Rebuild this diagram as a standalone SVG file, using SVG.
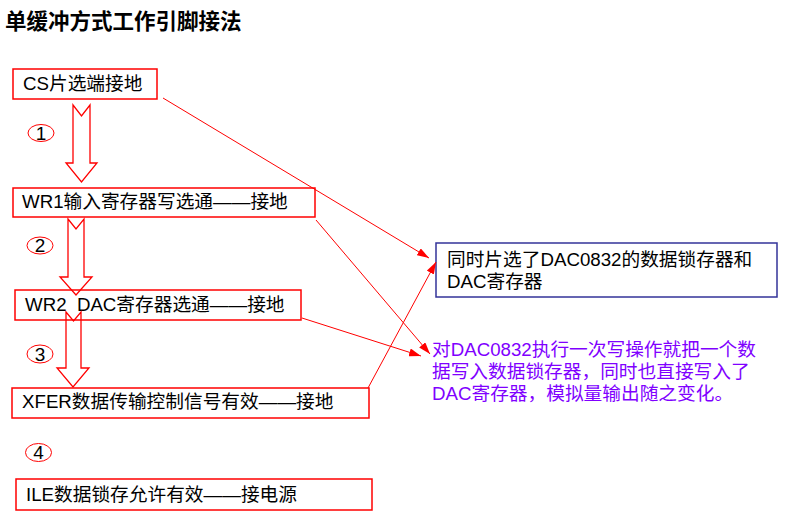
<svg xmlns="http://www.w3.org/2000/svg" width="789" height="531" viewBox="0 0 789 531">
<defs>
<style>
.t{font-family:"Liberation Sans","Noto Sans CJK SC",sans-serif;font-size:18.7px;fill:#000;white-space:pre}
.title{font-family:"Noto Sans CJK SC","Liberation Sans",sans-serif;font-size:21.5px;font-weight:bold;fill:#000}
.rb{fill:#fff;stroke:#ff0000;stroke-width:1.5}
.bb{fill:#fff;stroke:#333399;stroke-width:1.5}
.ba{fill:none;stroke:#ff0000;stroke-width:1.3}
.num{fill:none;stroke:#ff0000;stroke-width:1}
.n{font-family:"Liberation Sans",sans-serif;font-size:19px;fill:#000;text-anchor:middle}
.c{fill:none;stroke:#ff0000;stroke-width:1}
.p{font-family:"Liberation Sans","Noto Sans CJK SC",sans-serif;font-size:18.7px;fill:#8000ff}
</style>
<marker id="ah" viewBox="0 0 12 8" refX="12" refY="4" markerWidth="12" markerHeight="8" markerUnits="userSpaceOnUse" orient="auto">
<path d="M0,0 L12,4 L0,8 Z" fill="#ff0000"/>
</marker>
</defs>
<rect width="789" height="531" fill="#fff"/>
<text class="title" x="5" y="29">单缓冲方式工作引脚接法</text>

<g id="cs"><rect class="rb" x="13" y="69" width="144" height="30"/><text class="t" x="23" y="90">CS片选端接地</text></g>

<g id="wr1"><rect class="rb" x="13" y="188" width="302" height="29"/><text class="t" x="22" y="208">WR1输入寄存器写选通——接地</text></g>

<g id="wr2"><rect class="rb" x="15" y="290" width="286" height="30"/><text class="t" x="25" y="311" xml:space="preserve">WR2  DAC寄存器选通——接地</text></g>

<g id="xfer"><rect class="rb" x="12" y="388" width="357" height="30"/><text class="t" x="22" y="408">XFER数据传输控制信号有效——接地</text></g>

<g id="ile"><rect class="rb" x="16" y="479" width="356" height="31"/><text class="t" x="26" y="501">ILE数据锁存允许有效——接电源</text></g>

<g id="step1">
<path class="ba" d="M73,105 L81.5,116 L90,105 L90,163 L97,163 L81.5,182 L66,163 L73,163 Z"/>
<ellipse class="num" cx="41" cy="133" rx="13" ry="8.5"/><text class="n" x="41" y="139.5">1</text>
</g>

<g id="step2">
<path class="ba" d="M68,219 L76,229 L84,219 L84,277 L92,277 L76,295 L60,277 L68,277 Z"/>
<ellipse class="num" cx="40" cy="245.5" rx="13" ry="8.5"/><text class="n" x="40" y="252">2</text>
</g>

<g id="step3">
<path class="ba" d="M66,312 L73.5,321 L81,312 L81,368 L89,368 L73,387 L57,368 L66,368 Z"/>
<ellipse class="num" cx="40" cy="354" rx="13" ry="9"/><text class="n" x="40" y="360.5">3</text>
</g>

<g id="step4">
<ellipse class="num" cx="38.5" cy="452.5" rx="13" ry="9"/><text class="n" x="38.5" y="459">4</text>
</g>

<g id="note1"><rect class="bb" x="436" y="243" width="341" height="54"/>
<text class="t" x="447" y="266">同时片选了DAC0832的数据锁存器和</text>
<text class="t" x="447" y="288">DAC寄存器</text></g>

<g id="note2">
<text class="p" x="432" y="356">对DAC0832执行一次写操作就把一个数</text>
<text class="p" x="432" y="378">据写入数据锁存器，同时也直接写入了</text>
<text class="p" x="432" y="400">DAC寄存器，模拟量输出随之变化。</text>
</g>

<g id="connectors">
<line class="c" x1="163" y1="98" x2="429" y2="258" marker-end="url(#ah)"/>
<line class="c" x1="316" y1="220" x2="430" y2="354" marker-end="url(#ah)"/>
<line class="c" x1="302" y1="318" x2="421" y2="356" marker-end="url(#ah)"/>
<line class="c" x1="368" y1="388" x2="436" y2="262" marker-end="url(#ah)"/>
</g>
</svg>
